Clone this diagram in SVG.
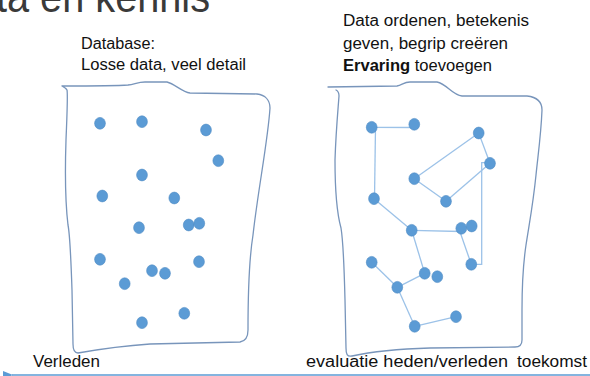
<svg xmlns="http://www.w3.org/2000/svg" width="590" height="376" viewBox="0 0 590 376">
<defs>
<style>
.t{font-family:"Liberation Sans",Arial,sans-serif;font-size:16px;fill:#111}
.title{font-family:"Liberation Sans",Arial,sans-serif;font-size:44px;fill:#3a3a3a}
.box{fill:none;stroke:#7895bb;stroke-width:1.3;stroke-linejoin:round;stroke-linecap:round}
.dot{fill:#5b9bd5;stroke:#4f8bc4;stroke-width:0.6}
.ln{fill:none;stroke:#9cc2e8;stroke-width:1.3}
</style>
<marker id="ah" viewBox="0 0 10 10" refX="1" refY="5" markerWidth="8" markerHeight="8" orient="auto-start-reverse">
<path d="M10,1 L0,5 L10,9 Z" fill="#5b9bd5"/>
</marker>
</defs>
<rect width="590" height="376" fill="#fff"/>
<text class="title" x="-4" y="12" textLength="214" lengthAdjust="spacingAndGlyphs">ta en kennis</text>

<g id="label-left">
<text class="t" x="81" y="49" textLength="74" lengthAdjust="spacingAndGlyphs">Database:</text>
<text class="t" x="81" y="70" textLength="165" lengthAdjust="spacingAndGlyphs">Losse data, veel detail</text>
</g>
<g id="label-right">
<text class="t" x="343" y="26" textLength="186" lengthAdjust="spacingAndGlyphs">Data ordenen, betekenis</text>
<text class="t" x="343" y="49" textLength="165" lengthAdjust="spacingAndGlyphs">geven, begrip creëren</text>
<text class="t" x="343" y="71" textLength="149" lengthAdjust="spacingAndGlyphs"><tspan font-weight="bold">Ervaring</tspan> toevoegen</text>
</g>

<g id="box-left">
<path class="box" d="M62,86 C90,86 115,86 128,85 C135,84 138,82 145,82 L167,82 C175,84 182,92 190,93 L257,94 C265,95 270,100 270,108 C268,140 258,190 253,235 C249,260 248,300 248,330 C248,337 246,341 240,342 L150,344 C120,346 95,350 78,353 C74,353 73,349 73,344 L72,290 C71,260 70,235 68,225 C65,200 65,170 66,140 C67,115 68,95 67,90 C66,88 64,87 62,86"/>
</g>
<g id="box-right">
<path class="box" d="M328,87 L397,86 C402,85 404,82 410,82 L437,82 C447,84 452,95 462,96 L527,96 C536,97 542,101 542,110 C541,135 538,155 536,175 C533,205 529,225 526,245 C523,265 522,285 522,310 L522,340 C522,345 520,347 515,347 L430,348 C395,349 370,352 352,356 C347,357 346,354 346,348 L345,300 C344,260 343,240 341,228 C336,210 335,190 335,160 C336,130 338,110 339,96 C339,93 338,91 336,90"/>
</g>

<g id="connectors">
<line class="ln" x1="371.7" y1="127.3" x2="414.3" y2="127.5"/>
<line class="ln" x1="375.5" y1="127.3" x2="374.5" y2="198.7"/>
<line class="ln" x1="478.7" y1="133" x2="414.3" y2="178.7"/>
<line class="ln" x1="478.7" y1="133" x2="490" y2="163.3"/>
<line class="ln" x1="414.3" y1="178.7" x2="446" y2="201.3"/>
<line class="ln" x1="446" y1="201.3" x2="490" y2="163.3"/>
<polyline class="ln" points="490,162.7 481.7,162.7 481.7,264.3 471.3,264.3"/>
<line class="ln" x1="374" y1="198.7" x2="411.7" y2="230.3"/>
<line class="ln" x1="411.7" y1="230.3" x2="461.3" y2="231.5"/>
<line class="ln" x1="459" y1="229" x2="471.3" y2="264.3"/>
<line class="ln" x1="411.7" y1="230.3" x2="424.7" y2="273.3"/>
<line class="ln" x1="424.7" y1="273.3" x2="397.3" y2="287.3"/>
<line class="ln" x1="371.7" y1="262.3" x2="397.3" y2="287.3"/>
<line class="ln" x1="397.3" y1="287.3" x2="414.7" y2="326.3"/>
<line class="ln" x1="414.7" y1="326.3" x2="456" y2="316.7"/>
<line x1="12" y1="375" x2="590" y2="375" stroke="#5b9bd5" stroke-width="1.3" marker-start="url(#ah)"/>
</g>

<g id="dots-left">
<ellipse class="dot" cx="100" cy="123.3" rx="5.4" ry="5.9"/>
<ellipse class="dot" cx="142" cy="121.7" rx="5.4" ry="5.9"/>
<ellipse class="dot" cx="206" cy="130" rx="5.4" ry="5.9"/>
<ellipse class="dot" cx="218.3" cy="160.7" rx="5.4" ry="5.9"/>
<ellipse class="dot" cx="142" cy="175" rx="5.4" ry="5.9"/>
<ellipse class="dot" cx="102.3" cy="196" rx="5.4" ry="5.9"/>
<ellipse class="dot" cx="174.3" cy="198" rx="5.4" ry="5.9"/>
<ellipse class="dot" cx="139" cy="227.7" rx="5.4" ry="5.9"/>
<ellipse class="dot" cx="188.7" cy="225" rx="5.4" ry="5.9"/>
<ellipse class="dot" cx="199.3" cy="223.3" rx="5.4" ry="5.9"/>
<ellipse class="dot" cx="100" cy="259.3" rx="5.4" ry="5.9"/>
<ellipse class="dot" cx="199" cy="261.7" rx="5.4" ry="5.9"/>
<ellipse class="dot" cx="152" cy="270.7" rx="5.4" ry="5.9"/>
<ellipse class="dot" cx="165" cy="273.3" rx="5.4" ry="5.9"/>
<ellipse class="dot" cx="124.7" cy="283.7" rx="5.4" ry="5.9"/>
<ellipse class="dot" cx="184.3" cy="313.3" rx="5.4" ry="5.9"/>
<ellipse class="dot" cx="142" cy="322.7" rx="5.4" ry="5.9"/>
</g>
<g id="dots-right">
<ellipse class="dot" cx="371.7" cy="127.3" rx="5.4" ry="5.9"/>
<ellipse class="dot" cx="414.3" cy="124.3" rx="5.4" ry="5.9"/>
<ellipse class="dot" cx="478.7" cy="133" rx="5.4" ry="5.9"/>
<ellipse class="dot" cx="490" cy="163.3" rx="5.4" ry="5.9"/>
<ellipse class="dot" cx="414.3" cy="178.7" rx="5.4" ry="5.9"/>
<ellipse class="dot" cx="374" cy="198.7" rx="5.4" ry="5.9"/>
<ellipse class="dot" cx="446" cy="201.3" rx="5.4" ry="5.9"/>
<ellipse class="dot" cx="411.7" cy="230.3" rx="5.4" ry="5.9"/>
<ellipse class="dot" cx="461.3" cy="228.3" rx="5.4" ry="5.9"/>
<ellipse class="dot" cx="471.7" cy="226" rx="5.4" ry="5.9"/>
<ellipse class="dot" cx="371.7" cy="262.3" rx="5.4" ry="5.9"/>
<ellipse class="dot" cx="471.3" cy="264.3" rx="5.4" ry="5.9"/>
<ellipse class="dot" cx="424.7" cy="273.3" rx="5.4" ry="5.9"/>
<ellipse class="dot" cx="437.3" cy="276.7" rx="5.4" ry="5.9"/>
<ellipse class="dot" cx="397.3" cy="287.3" rx="5.4" ry="5.9"/>
<ellipse class="dot" cx="456" cy="316.7" rx="5.4" ry="5.9"/>
<ellipse class="dot" cx="414.7" cy="326.3" rx="5.4" ry="5.9"/>
</g>

<g id="timeline-labels">
<text class="t" x="33" y="367" textLength="67" lengthAdjust="spacingAndGlyphs">Verleden</text>
<text class="t" x="306" y="367" textLength="202" lengthAdjust="spacingAndGlyphs">evaluatie heden/verleden</text>
<text class="t" x="517" y="367" textLength="70" lengthAdjust="spacingAndGlyphs">toekomst</text>
</g>
</svg>
